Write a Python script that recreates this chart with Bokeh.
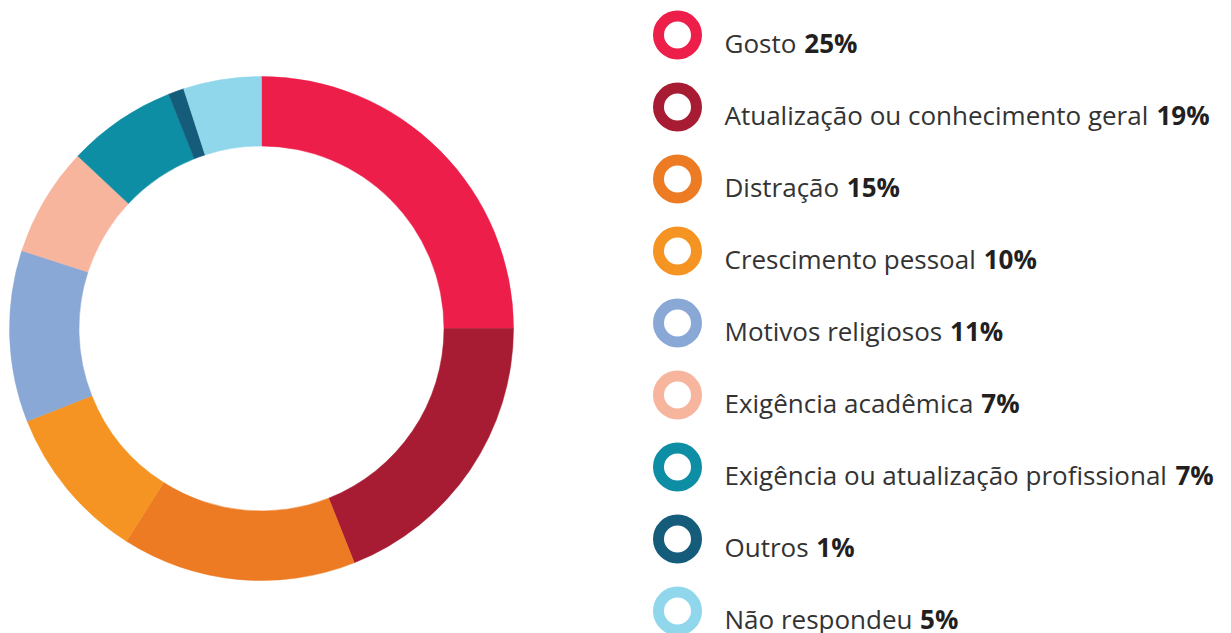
import numpy as np
from bokeh.plotting import figure
from bokeh.models import Range1d
from bokeh.core.properties import value
from bokeh.embed import file_html
from bokeh.resources import INLINE

# ---- data ----
categories = ["Gosto", "Atualização ou conhecimento geral", "Distração",
              "Crescimento pessoal", "Motivos religiosos", "Exigência acadêmica",
              "Exigência ou atualização profissional", "Outros", "Não respondeu"]
percents = [25, 19, 15, 10, 11, 7, 7, 1, 5]
colors = ["#ED1E4A", "#A71C32", "#EC7B24", "#F59422", "#8AA8D6",
          "#F7B59D", "#0E8EA5", "#155B7A", "#91D7EC"]

# ---- layout (pixel-like coordinates: x = px, y = 633 - py) ----
W, H = 1231, 633
p = figure(width=W, height=H, x_range=Range1d(0, W), y_range=Range1d(0, H),
           output_backend="svg", toolbar_location=None,
           x_axis_location=None, y_axis_location=None, min_border=0)
p.grid.visible = False
p.outline_line_color = None
p.background_fill_color = "white"
p.border_fill_color = "white"

def Y(py):
    return H - py

# donut
vals = np.array(percents, dtype=float)
frac = vals / vals.sum()
cum = np.concatenate([[0], np.cumsum(frac)])
start = np.pi / 2 - 2 * np.pi * cum[:-1]
end = np.pi / 2 - 2 * np.pi * cum[1:]
cx, cy = 261, Y(328)
p.annular_wedge(x=[cx] * len(vals), y=[cy] * len(vals),
                inner_radius=182.5, outer_radius=252,
                start_angle=list(start), end_angle=list(end), direction="clock",
                fill_color=colors, line_color=colors, line_width=0.5)

# legend
FS = 26
widths = {" ": 532, "a": 1139, "c": 975, "d": 1255, "e": 1149, "g": 1122, "h": 1257,
          "i": 518, "l": 518, "m": 1905, "n": 1257, "o": 1237, "p": 1255, "r": 836,
          "s": 977, "t": 723, "u": 1257, "v": 1028, "x": 1075, "z": 977, "f": 694,
          "A": 1296, "C": 1292, "D": 1479, "E": 1139, "G": 1503, "M": 1815,
          "N": 1511, "O": 1593, "ç": 975, "ã": 1139, "ê": 1149}

def text_w(s):
    return sum(widths.get(ch, 1100) for ch in s) * FS / 2048

rows = [34.5 + 72.0 * i for i in range(len(categories))]
ring_x = 677
text_x = 724
p.scatter(x=[ring_x] * len(rows), y=[Y(r) for r in rows], marker="circle",
          size=38, line_width=11, fill_color="white", line_color=colors)
p.text(x=[text_x] * len(rows), y=[Y(r + 8.0) for r in rows], text=categories,
       text_font=value("Open Sans"), text_font_size=f"{FS}px",
       text_color="#333333", text_baseline="alphabetic", text_align="left")
pct_x = [text_x + text_w(c + " ") + 1 for c in categories]
p.text(x=pct_x, y=[Y(r + 8.0) for r in rows], text=[f"{v}%" for v in percents],
       text_font=value("Open Sans"), text_font_size=f"{FS}px", text_font_style="bold",
       text_color="#231F20", text_baseline="alphabetic", text_align="left")

open("out.html", "w").write(file_html(p, INLINE))
